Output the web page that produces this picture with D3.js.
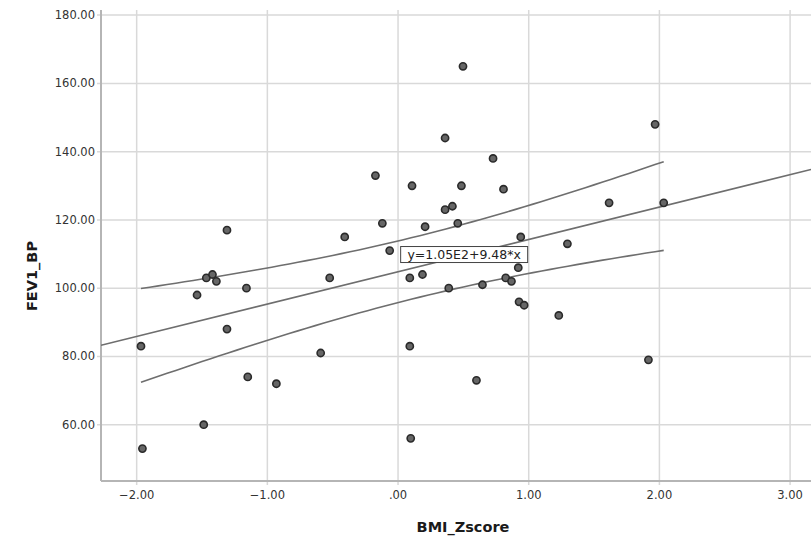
<!DOCTYPE html>
<html>
<head>
<meta charset="utf-8">
<script src="https://cdn.jsdelivr.net/npm/d3@7"></script>
<style>
  body { margin: 0; background: #fff; overflow: hidden; }
  svg { display: block; }
</style>
</head>
<body>
<div id="chart"></div>
<script>
// BMI z-score values (x)
var bmiZ = [-1.309, -1.467, -1.42, -1.39, -1.16, -1.538, -1.309, -1.967, -1.15, -1.487,
            -1.956, -0.931, -0.523, 0.09, 0.187, 0.388, 0.646, 0.824, 0.868, 0.926,
            0.965, -0.592, 0.09, 0.60, 0.097, 0.92, 0.497, 0.36, 0.727, -0.173,
            0.107, 0.485, 0.807, 0.36, 0.416, -0.12, 0.207, 0.457, -0.408, 0.939,
            -0.064, 1.967, 1.615, 2.033, 1.296, 1.23, 1.916];
// FEV1_BP values (y)
var fev1 = [117, 103, 104, 102, 100, 98, 88, 83, 74, 60,
            53, 72, 103, 103, 104, 100, 101, 103, 102, 96,
            95, 81, 83, 73, 56, 106, 165, 144, 138, 133,
            130, 130, 129, 123, 124, 119, 118, 119, 115, 115,
            111, 148, 125, 125, 113, 92, 79];

var xTicks = [-2, -1, 0, 1, 2, 3];
var yTicks = [60, 80, 100, 120, 140, 160, 180];

// fit line y = a + b*x, and mean confidence band
var fitCoef = [104.8, 9.48];
var fitLabel = "y=1.05E2+9.48*x";
var bandMinHalf = 9.0;   // half width at narrowest point
var bandCenterX = 0.135; // where it is narrowest
var bandCurv = 24.4;

var width = 811, height = 537;
var margin = {left: 101, top: 10, right: 0, bottom: 56};

var svg = d3.select('#chart')
    .append('svg')
    .attr('width', width)
    .attr('height', height);

var x = d3.scaleLinear()
    .domain([-2.273, 3.16])
    .range([margin.left, width - margin.right]);

var y = d3.scaleLinear()
    .domain([43.5, 181.5])
    .range([height - margin.bottom, margin.top]);

function fmt(v) {
    var s = d3.format('.2f')(v);
    return s.replace(/^0\./, '.').replace(/^-0\./, '-.');
}

// grid
svg.append('g').selectAll('line.gy')
    .data(yTicks)
    .enter()
    .append('line')
    .attr('x1', x.range()[0] - 4)
    .attr('x2', x.range()[1])
    .attr('y1', function(d){ return y(d); })
    .attr('y2', function(d){ return y(d); })
    .attr('stroke', '#d9d9d9')
    .attr('stroke-width', 1.5);

svg.append('g').selectAll('line.gx')
    .data(xTicks)
    .enter()
    .append('line')
    .attr('x1', function(d){ return x(d); })
    .attr('x2', function(d){ return x(d); })
    .attr('y1', y.range()[1])
    .attr('y2', y.range()[0] + 4)
    .attr('stroke', '#d9d9d9')
    .attr('stroke-width', 1.5);

// axis lines
svg.append('line')
    .attr('x1', x.range()[0]).attr('x2', x.range()[0])
    .attr('y1', y.range()[1]).attr('y2', y.range()[0])
    .attr('stroke', '#b5b5b5').attr('stroke-width', 2);
svg.append('line')
    .attr('x1', x.range()[0]).attr('x2', x.range()[1])
    .attr('y1', y.range()[0]).attr('y2', y.range()[0])
    .attr('stroke', '#b5b5b5').attr('stroke-width', 2);

// tick labels
svg.append('g').selectAll('text')
    .data(yTicks)
    .enter()
    .append('text')
    .attr('x', 95)
    .attr('y', function(d){ return y(d); })
    .attr('dy', '0.35em')
    .attr('text-anchor', 'end')
    .attr('font-family', 'DejaVu Sans')
    .attr('font-size', 11.5)
    .attr('fill', '#333')
    .text(fmt);

svg.append('g').selectAll('text')
    .data(xTicks)
    .enter()
    .append('text')
    .attr('x', function(d){ return x(d); })
    .attr('y', 495)
    .attr('dy', '0.35em')
    .attr('text-anchor', 'middle')
    .attr('font-family', 'DejaVu Sans')
    .attr('font-size', 11.5)
    .attr('fill', '#333')
    .text(fmt);

// axis titles
svg.append('text')
    .attr('x', 463)
    .attr('y', 527)
    .attr('dy', '0.35em')
    .attr('text-anchor', 'middle')
    .attr('font-family', 'DejaVu Sans')
    .attr('font-weight', 'bold')
    .attr('font-size', 14.5)
    .attr('fill', '#1a1a1a')
    .text('BMI_Zscore');

svg.append('text')
    .attr('transform', 'translate(32,276) rotate(-90)')
    .attr('dy', '0.35em')
    .attr('text-anchor', 'middle')
    .attr('font-family', 'DejaVu Sans')
    .attr('font-weight', 'bold')
    .attr('font-size', 14.5)
    .attr('fill', '#1a1a1a')
    .text('FEV1_BP');

// fit line and band
svg.append('clipPath').attr('id', 'plotclip')
    .append('rect')
    .attr('x', x.range()[0]).attr('y', y.range()[1])
    .attr('width', x.range()[1] - x.range()[0])
    .attr('height', y.range()[0] - y.range()[1]);

function fit(v){ return fitCoef[0] + fitCoef[1] * v; }
function half(v){ return Math.sqrt(bandMinHalf * bandMinHalf + bandCurv * (v - bandCenterX) * (v - bandCenterX)); }

var lineGen = d3.line()
    .x(function(d){ return x(d[0]); })
    .y(function(d){ return y(d[1]); });

var xMin = d3.min(bmiZ), xMax = d3.max(bmiZ);
var steps = d3.range(0, 61).map(function(i){ return xMin + (xMax - xMin) * i / 60; });

var lines = svg.append('g').attr('clip-path', 'url(#plotclip)');

lines.append('path')
    .attr('d', lineGen(x.domain().map(function(v){ return [v, fit(v)]; })))
    .attr('fill', 'none').attr('stroke', '#6e6e6e').attr('stroke-width', 1.6);

lines.append('path')
    .attr('d', lineGen(steps.map(function(v){ return [v, fit(v) + half(v)]; })))
    .attr('fill', 'none').attr('stroke', '#6e6e6e').attr('stroke-width', 1.6);

lines.append('path')
    .attr('d', lineGen(steps.map(function(v){ return [v, fit(v) - half(v)]; })))
    .attr('fill', 'none').attr('stroke', '#6e6e6e').attr('stroke-width', 1.6);

// points
svg.append('g').selectAll('circle')
    .data(bmiZ)
    .enter()
    .append('circle')
    .attr('cx', function(d){ return x(d); })
    .attr('cy', function(d, i){ return y(fev1[i]); })
    .attr('r', 3.6)
    .attr('fill', '#666')
    .attr('stroke', '#2a2a2a')
    .attr('stroke-width', 1.6);

// equation label
var lab = svg.append('g')
    .attr('transform', 'translate(' + x(0.02) + ',' + y(112.2) + ')');
lab.append('rect')
    .attr('width', 127)
    .attr('height', 16)
    .attr('fill', '#fff')
    .attr('stroke', '#444')
    .attr('stroke-width', 1);
lab.append('text')
    .attr('x', 63.5)
    .attr('y', 8)
    .attr('dy', '0.35em')
    .attr('text-anchor', 'middle')
    .attr('font-family', 'DejaVu Sans')
    .attr('font-size', 12.5)
    .attr('fill', '#222')
    .text(fitLabel);
</script>
</body>
</html>
